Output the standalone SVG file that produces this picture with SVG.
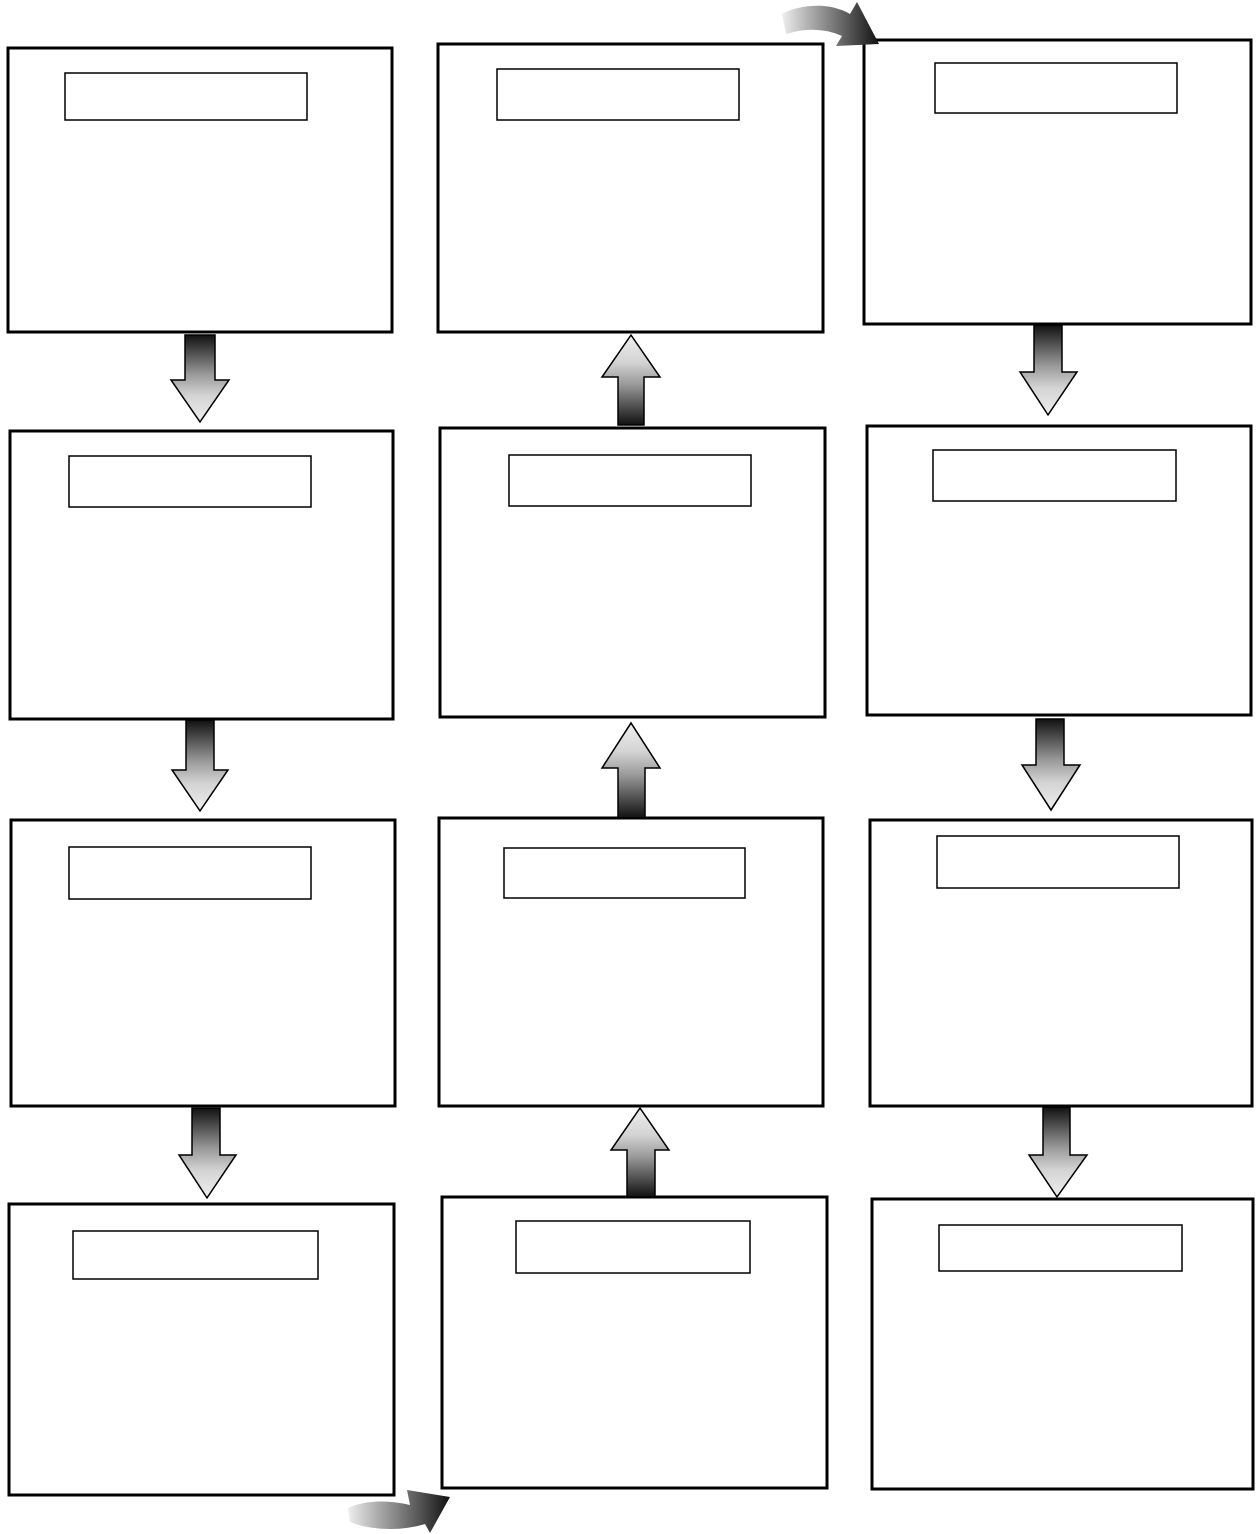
<svg xmlns="http://www.w3.org/2000/svg" width="1258" height="1534" viewBox="0 0 1258 1534">
<style>
.box{fill:#fff;stroke:#000;stroke-width:3}
.lbl{fill:#fff;stroke:#000;stroke-width:1.5}
.down{fill:url(#gDown);stroke:#000;stroke-width:1.5}
.up{fill:url(#gUp);stroke:#000;stroke-width:1.5}
</style>
<defs>
<linearGradient id="gDown" x1="0" y1="0" x2="0" y2="1">
<stop offset="0" stop-color="#111"/>
<stop offset="0.45" stop-color="#999"/>
<stop offset="0.7" stop-color="#d4d4d4"/>
<stop offset="1" stop-color="#eee"/>
</linearGradient>
<linearGradient id="gUp" x1="0" y1="1" x2="0" y2="0">
<stop offset="0" stop-color="#111"/>
<stop offset="0.45" stop-color="#999"/>
<stop offset="0.7" stop-color="#d4d4d4"/>
<stop offset="1" stop-color="#eee"/>
</linearGradient>
<linearGradient id="gCurve" x1="0" y1="0" x2="1" y2="0">
<stop offset="0" stop-color="#eee"/>
<stop offset="0.3" stop-color="#aaa"/>
<stop offset="0.7" stop-color="#555"/>
<stop offset="1" stop-color="#111"/>
</linearGradient>
</defs>
<rect width="1258" height="1534" fill="#fff"/>
<g id="node-c1r1"><rect class="box" x="8" y="48" width="384" height="284"/><rect class="lbl" x="65" y="73" width="242" height="47"/></g>
<g id="node-c1r2"><rect class="box" x="10" y="431" width="383" height="288"/><rect class="lbl" x="69" y="456" width="242" height="51"/></g>
<g id="node-c1r3"><rect class="box" x="11" y="820" width="384" height="286"/><rect class="lbl" x="69" y="847" width="242" height="52"/></g>
<g id="node-c1r4"><rect class="box" x="9" y="1204" width="385" height="291"/><rect class="lbl" x="73" y="1231" width="245" height="48"/></g>
<g id="node-c2r1"><rect class="box" x="438" y="44" width="385" height="288"/><rect class="lbl" x="497" y="69" width="242" height="51"/></g>
<g id="node-c2r2"><rect class="box" x="440" y="428" width="385" height="289"/><rect class="lbl" x="509" y="455" width="242" height="51"/></g>
<g id="node-c2r3"><rect class="box" x="439" y="818" width="384" height="288"/><rect class="lbl" x="504" y="848" width="241" height="50"/></g>
<g id="node-c2r4"><rect class="box" x="442" y="1197" width="385" height="291"/><rect class="lbl" x="516" y="1221" width="234" height="52"/></g>
<g id="node-c3r1"><rect class="box" x="864" y="40" width="387" height="284"/><rect class="lbl" x="935" y="63" width="242" height="50"/></g>
<g id="node-c3r2"><rect class="box" x="867" y="426" width="384" height="289"/><rect class="lbl" x="933" y="450" width="243" height="51"/></g>
<g id="node-c3r3"><rect class="box" x="870" y="820" width="382" height="286"/><rect class="lbl" x="937" y="836" width="242" height="52"/></g>
<g id="node-c3r4"><rect class="box" x="872" y="1199" width="381" height="290"/><rect class="lbl" x="939" y="1225" width="243" height="46"/></g>
<g id="connectors">
<polygon class="down" points="185,335 215,335 215,380 229,380 200,422 171,380 185,380"/>
<polygon class="down" points="186,720 214,720 214,770 228,770 200,811 172,770 186,770"/>
<polygon class="down" points="192,1108 220,1108 220,1155 236,1155 207,1198 179,1155 192,1155"/>
<polygon class="up" points="618,425 644,425 644,377 660,377 631,335 602,377 618,377"/>
<polygon class="up" points="618,818 645,818 645,768 660,768 631,723 602,768 618,768"/>
<polygon class="up" points="627,1197 655,1197 655,1150 669,1150 640,1108 611,1150 627,1150"/>
<polygon class="down" points="1034,325 1062,325 1062,372 1077,372 1048,415 1020,372 1034,372"/>
<polygon class="down" points="1036,719 1064,719 1064,765 1080,765 1051,810 1022,765 1036,765"/>
<polygon class="down" points="1043,1107 1070,1107 1070,1155 1087,1155 1057,1197 1029,1155 1043,1155"/>
<path d="M782,14 C800,4 830,2 850,14 L857,2 L879,44 L836,46 L842,36 C825,28 805,28 786,34 Z" fill="url(#gCurve)"/>
<path d="M348,1508 C365,1500 390,1500 410,1505 L407,1490 L450,1497 L430,1533 L425,1524 C400,1532 370,1530 350,1522 Z" fill="url(#gCurve)"/>
</g>
</svg>
